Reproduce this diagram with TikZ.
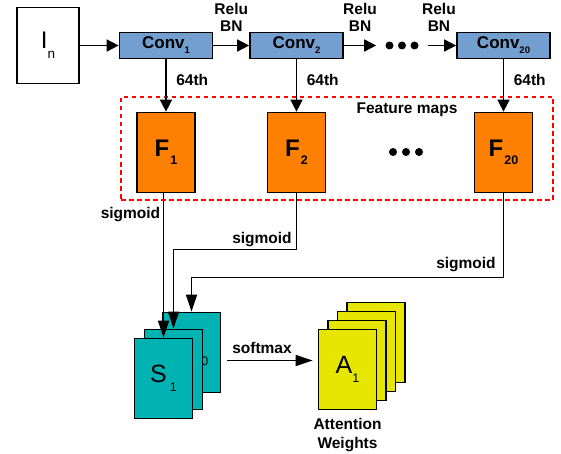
\documentclass[tikz,border=0pt]{standalone}
\usepackage{fontspec}
\setmainfont{Liberation Sans}
\usepackage{xcolor}
\usepackage{tikz}
\usetikzlibrary{arrows.meta, positioning, calc}
\definecolor{convblue}{HTML}{729FCF}
\definecolor{fmorange}{HTML}{FF8000}
\definecolor{smteal}{HTML}{00B3B3}
\definecolor{attyellow}{HTML}{E6E600}
\newcommand{\lowidx}[3]{\raisebox{-#1}{\fontsize{#2}{#2}\selectfont #3}}
\newcommand{\convname}[1]{Conv\lowidx{5pt}{9.5}{#1}}
\newcommand{\fmname}[1]{F\kern1pt\lowidx{8pt}{12.5}{#1}}
\newcommand{\smname}[1]{S\kern3pt\lowidx{9pt}{12.5}{#1}}

\begin{document}
\begin{tikzpicture}[x=1pt, y=-1pt, line width=1.6pt,
    box/.style={draw, line width=1.7pt, inner sep=0pt},
    inbox/.style={box, minimum width=62, minimum height=76, font=\fontsize{24}{26}\selectfont},
    convbox/.style={box, fill=convblue, minimum width=93, minimum height=26, font=\bfseries\fontsize{17}{19}\selectfont},
    fmap/.style={box, fill=fmorange, minimum width=58, minimum height=80, font=\bfseries\fontsize{24}{26}\selectfont},
    smap/.style={box, fill=smteal, minimum width=58, minimum height=80, font=\fontsize{25}{27}\selectfont},
    attmap/.style={box, fill=attyellow, minimum width=58, minimum height=80, font=\fontsize{25}{27}\selectfont},
    lbl/.style={font=\bfseries\fontsize{15.5}{17}\selectfont, inner sep=1.5pt, align=center},
    arrtop/.style={-{Triangle[length=12pt, width=12pt]}},
    arrbot/.style={-{Triangle[length=17pt, width=11pt]}},
    fmframe/.style={draw=red, line width=1.5pt, dash pattern=on 4.5pt off 3.5pt, minimum width=432, minimum height=103}]
    \useasboundingbox (0,0) rectangle (561,454);

    % conv chain
    \node[inbox] (in) at (48,45.5) {I\lowidx{10pt}{13.5}{n}};
    \node[convbox] (conv1) at (166,45.5) {\convname{1}};
    \node[convbox] (conv2) at (296.5,45.5) {\convname{2}};
    \node[minimum width=50] (dots1) at (402,45.5) {};
    \node[convbox] (conv20) at (503.5,45.5) {\convname{20}};

    \draw[arrtop] (in) -- (conv1);
    \draw[arrtop] (conv1) -- (conv2) node[lbl, midway, above=12pt] {Relu\\BN};
    \draw[arrtop] (conv2) -- (dots1) node[lbl, midway, above=12pt] {Relu\\BN};
    \draw[arrtop] (dots1) -- (conv20) node[lbl, midway, above=12pt, xshift=-3pt] {Relu\\BN};
    \foreach \d in {-1,0,1}
      \fill ($(dots1)+(12.5*\d,0)$) circle (4);

    % feature maps
    \node[fmframe] (fmaps) at (337,148.5) {};
    \node[lbl, anchor=north] (fmlabel) at ($(fmaps.north)+(70,4)$) {Feature maps};
    \node[fmap] (f1) at (166,152.5) {\fmname{1}};
    \node[fmap] (f2) at (296.5,152.5) {\fmname{2}};
    \node[minimum width=40] (dots2) at (406,152) {};
    \node[fmap] (f20) at (503.5,152.5) {\fmname{20}};
    \foreach \d in {-1,0,1}
      \fill ($(dots2)+(13*\d,0)$) circle (4);

    \draw[arrtop] (conv1) -- (f1) node[lbl, pos=0.4, right=8pt] {64th};
    \draw[arrtop] (conv2) -- (f2) node[lbl, pos=0.4, right=8pt] {64th};
    \draw[arrtop] (conv20) -- (f20) node[lbl, pos=0.4, right=8pt] {64th};

    % score maps
    \node[smap] (s20) at (191.5,352.5) {\smname{20}};
    \node[smap] (s2) at (173.5,369.5) {};
    \node[smap] (s1) at (163.5,378.5) {\smname{1}};

    \draw[arrbot] (s1.north |- f1.south) -- (s1.north) node[lbl, pos=0.15, left=1pt] {sigmoid};
    \draw[arrbot] (f2.south) -- ++(0,56) node[lbl, above left=0.5pt and 2.5pt] {sigmoid} -| (s2.north);
    \draw[arrbot] (f20.south) -- ++(0,84) node[lbl, above left=3pt and 5.5pt] {sigmoid} -| (s20.north);

    % attention weights
    \node[attmap] (a4) at (376,342.5) {};
    \node[attmap] (a3) at (366.5,351.5) {};
    \node[attmap] (a2) at (357,360.5) {};
    \node[attmap] (a1) at (347.5,369.5) {A\lowidx{9pt}{12.5}{1}};
    \node[lbl, below=6pt of a1, font=\bfseries\fontsize{15.5}{19}\selectfont] (attlbl) {Attention\\Weights};

    \draw[arrbot] ($(s20.east |- a2.west)+(6,0)$) -- ($(a1.west |- a2.west)+(-5,0)$)
      node[lbl, midway, above=5pt, xshift=-8pt] {softmax};
  \end{tikzpicture}
\end{document}
